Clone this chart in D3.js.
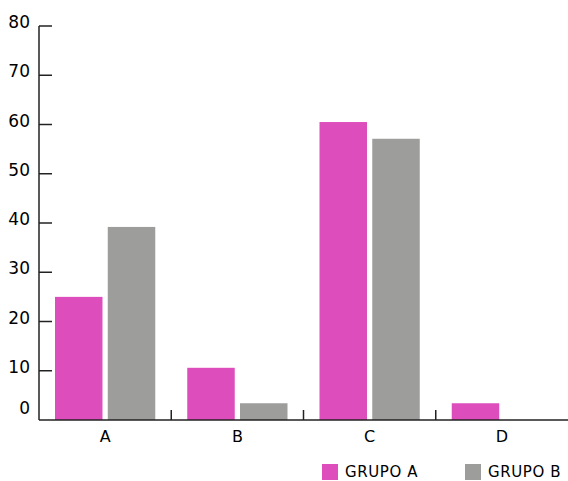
<!DOCTYPE html>
<html>
<head>
<meta charset="utf-8">
<script src="https://cdn.jsdelivr.net/npm/d3@7/dist/d3.min.js"></script>
<style>
  html, body { margin: 0; padding: 0; background: #fff; }
  svg { display: block; }
  text { font-family: "DejaVu Sans", sans-serif; fill: #000; }
</style>
</head>
<body>
<svg id="chart" width="568" height="481"></svg>
<script>
const categories = ["A", "B", "C", "D"];
const seriesNames = ["GRUPO A", "GRUPO B"];
const grupoA = [25, 10.6, 60.5, 3.4];
const grupoB = [39.2, 3.4, 57.1, 0];
const yTicks = [0, 10, 20, 30, 40, 50, 60, 70, 80];
const colors = ["#DD4DBB", "#9D9D9C"];

(function () {
const svg = d3.select("#chart");
const mLeft = 39, mRight = 568, mTop = 26, mBottom = 420;

const x = d3.scaleBand().domain(categories).range([mLeft, mRight]).paddingInner(0).paddingOuter(0);
const bw = x.bandwidth();
const x1 = d3.scaleBand().domain(seriesNames).range([16, bw - 16]).paddingInner(0.1);
const y = d3.scaleLinear().domain([0, 80]).range([mBottom, mTop]);

const values = [grupoA, grupoB];

// bars
seriesNames.forEach((s, si) => {
  svg.append("g").selectAll("rect")
    .data(categories.map((c, i) => ({ c, v: values[si][i] })))
    .join("rect")
    .attr("x", d => x(d.c) + x1(s))
    .attr("y", d => y(d.v))
    .attr("width", x1.bandwidth())
    .attr("height", d => y(0) - y(d.v))
    .attr("fill", colors[si]);
});

// y axis
const yAxis = svg.append("g");
yAxis.append("line")
  .attr("x1", mLeft).attr("x2", mLeft)
  .attr("y1", y(80)).attr("y2", y(0))
  .attr("stroke", "#222").attr("stroke-width", 1.5);
yAxis.selectAll("line.tick")
  .data(yTicks.filter(t => t > 0))
  .join("line")
  .attr("class", "tick")
  .attr("x1", mLeft).attr("x2", mLeft + 13)
  .attr("y1", d => y(d)).attr("y2", d => y(d))
  .attr("stroke", "#222").attr("stroke-width", 1.5);
yAxis.selectAll("text")
  .data(yTicks)
  .join("text")
  .attr("x", 30)
  .attr("y", d => y(d) + (d === 0 ? -6 : 2))
  .attr("text-anchor", "end")
  .attr("font-size", 17)
  .text(d => d);

// x axis
const xAxis = svg.append("g");
xAxis.append("line")
  .attr("x1", mLeft).attr("x2", mRight)
  .attr("y1", y(0)).attr("y2", y(0))
  .attr("stroke", "#222").attr("stroke-width", 1.5);
xAxis.selectAll("line.tick")
  .data(categories.slice(1))
  .join("line")
  .attr("class", "tick")
  .attr("x1", d => x(d)).attr("x2", d => x(d))
  .attr("y1", y(0)).attr("y2", y(0) - 10)
  .attr("stroke", "#222").attr("stroke-width", 1.5);
xAxis.selectAll("text")
  .data(categories)
  .join("text")
  .attr("x", d => x(d) + bw / 2)
  .attr("y", y(0) + 22)
  .attr("text-anchor", "middle")
  .attr("font-size", 16)
  .text(d => d);

// legend
const legendX = [322, 465];
const legend = svg.append("g");
seriesNames.forEach((s, i) => {
  legend.append("rect")
    .attr("x", legendX[i]).attr("y", 464)
    .attr("width", 16).attr("height", 16)
    .attr("fill", colors[i]);
  legend.append("text")
    .attr("x", legendX[i] + 23).attr("y", 477)
    .attr("font-size", 15)
    .attr("letter-spacing", 0.6)
    .text(s);
});
})();
</script>
</body>
</html>
